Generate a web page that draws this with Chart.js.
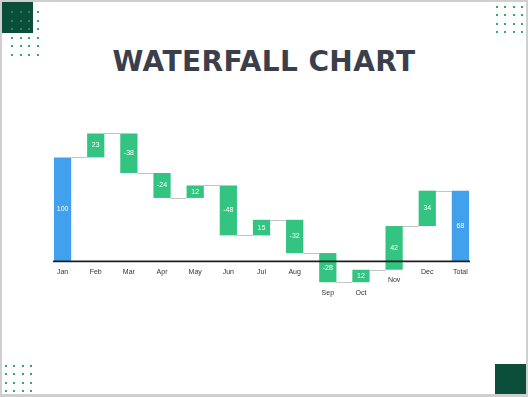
<!DOCTYPE html>
<html>
<head>
<meta charset="utf-8">
<script src="https://cdn.jsdelivr.net/npm/chart.js@4"></script>
<style>
  html, body { margin: 0; padding: 0; }
  body { width: 528px; height: 397px; background: #cfcfcf; position: relative; overflow: hidden; }
  #card { position: absolute; left: 2px; top: 2px; width: 524px; height: 392px; background: #fff; }
  #chartBox { position: absolute; left: 0; top: 0; width: 528px; height: 397px; }
  #title {
    position: absolute; left: 0; top: 45px; width: 528px; text-align: center;
    font-family: "DejaVu Sans", sans-serif; font-weight: bold; font-size: 28px;
    color: #3b3f4c; letter-spacing: 0.4px;
  }
  .sq { position: absolute; background: #0b4f3a; }
  .dots { position: absolute; }
  .dots span { position: absolute; width: 2px; height: 2px; background: #3aa574; }
</style>
</head>
<body>
<div id="card"></div>
<div class="sq" style="left:2px;top:2px;width:31px;height:31px"></div>
<div class="sq" style="left:495px;top:364px;width:31px;height:30px"></div>
<div id="dotsTL" class="dots"></div>
<div id="dotsTR" class="dots"></div>
<div id="dotsBL" class="dots"></div>
<div id="title">WATERFALL CHART</div>
<div id="chartBox"><canvas id="chart" width="528" height="397"></canvas></div>

<script>
// ----- data -----
const categories = ["Jan", "Feb", "Mar", "Apr", "May", "Jun", "Jul", "Aug", "Sep", "Oct", "Nov", "Dec", "Total"];
const startValue = 100;
const changes = [23, -38, -24, 12, -48, 15, -32, -28, 12, 42, 34];
const totalValue = 68;

const blue = "#42a1ec";
const green = "#33c481";

// ----- decorative dots -----
function dotGrid(id, x0, y0, cols, rows, step, color) {
  const el = document.getElementById(id);
  for (let r = 0; r < rows; r++) {
    for (let c = 0; c < cols; c++) {
      const s = document.createElement("span");
      s.style.left = (x0 + c * step) + "px";
      s.style.top = (y0 + r * step) + "px";
      if (color) s.style.background = color(r, c);
      el.appendChild(s);
    }
  }
}
dotGrid("dotsTL", 11, 11, 4, 6, 8.6, (r, c) => (r < 3 && c < 3 ? "#2f7d5a" : "#3aa574"));
dotGrid("dotsTR", 496, 6, 4, 4, 8.4);
dotGrid("dotsBL", 5, 365, 4, 4, 8.4);

// ----- floating bars built from the data -----
const ranges = [[0, startValue]];
const labels = [String(startValue)];
let running = startValue;
changes.forEach((d) => {
  ranges.push([running, running + d]);
  labels.push(String(d));
  running += d;
});
ranges.push([0, totalValue]);
labels.push(String(totalValue));

const colors = categories.map((c, i) => (i === 0 || i === categories.length - 1 ? blue : green));

// ----- draws connectors, zero line, value & category labels -----
const waterfallDecor = {
  id: "waterfallDecor",
  beforeDatasetsDraw(chart) {
    const { ctx } = chart;
    const meta = chart.getDatasetMeta(0);
    const y = chart.scales.y;
    ctx.save();
    ctx.strokeStyle = "#c4c4c4";
    ctx.lineWidth = 1;
    for (let i = 0; i < meta.data.length - 1; i++) {
      const a = meta.data[i], b = meta.data[i + 1];
      const level = ranges[i][1];
      const py = Math.round(y.getPixelForValue(level)) + 0.5;
      ctx.beginPath();
      ctx.moveTo(a.x + a.width / 2, py);
      ctx.lineTo(b.x - b.width / 2, py);
      ctx.stroke();
    }
    ctx.restore();
  },
  afterDatasetsDraw(chart) {
    const { ctx } = chart;
    const meta = chart.getDatasetMeta(0);
    const y = chart.scales.y;
    const zero = y.getPixelForValue(0);
    const first = meta.data[0], last = meta.data[meta.data.length - 1];
    ctx.save();
    // zero line
    ctx.strokeStyle = "#1e1e1e";
    ctx.lineWidth = 1.6;
    ctx.beginPath();
    ctx.moveTo(first.x - first.width / 2 - 1, zero);
    ctx.lineTo(last.x + last.width / 2 + 1, zero);
    ctx.stroke();

    ctx.textAlign = "center";
    ctx.textBaseline = "middle";
    ctx.font = '7px "Liberation Sans", sans-serif';
    meta.data.forEach((bar, i) => {
      const top = y.getPixelForValue(Math.max(...ranges[i]));
      const bottom = y.getPixelForValue(Math.min(...ranges[i]));
      ctx.fillStyle = "#ffffff";
      ctx.fillText(labels[i], bar.x, (top + bottom) / 2);
      ctx.fillStyle = "#333333";
      ctx.fillText(categories[i], bar.x, Math.max(zero, bottom) + 10.5);
    });
    ctx.restore();
  },
};

new Chart(document.getElementById("chart").getContext("2d"), {
  type: "bar",
  data: {
    labels: categories,
    datasets: [
      {
        data: ranges,
        backgroundColor: colors,
        borderWidth: 0,
        barPercentage: 0.52,
        categoryPercentage: 1,
      },
    ],
  },
  options: {
    responsive: false,
    animation: false,
    layout: { padding: { top: 95, bottom: 94, left: 46, right: 51 } },
    plugins: { legend: { display: false }, tooltip: { enabled: false } },
    scales: {
      x: { display: false },
      y: { display: false, min: -40, max: 160 },
    },
  },
  plugins: [waterfallDecor],
});
</script>
</body>
</html>
